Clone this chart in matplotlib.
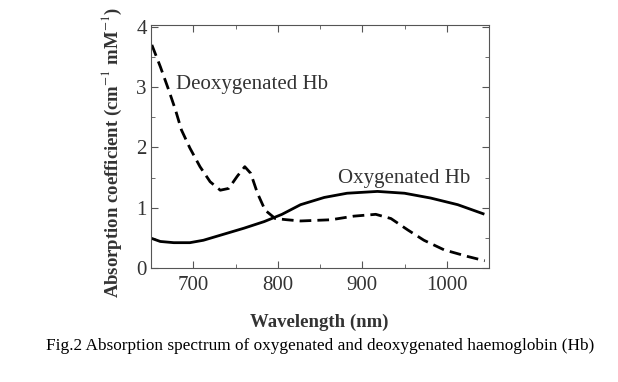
import numpy as np
import matplotlib
matplotlib.use("Agg")
import matplotlib.pyplot as plt
from matplotlib.ticker import MultipleLocator

# wavelength (nm) and absorption values
deoxy_wl = [651, 661, 671, 679, 686, 696, 708, 720, 732, 742, 752, 761, 768, 776,
            785, 797, 811, 827, 863, 890, 916, 934, 954, 973, 997, 1025, 1045]
deoxy_abs = [3.70, 3.34, 2.95, 2.62, 2.29, 1.99, 1.68, 1.43, 1.29, 1.32, 1.52, 1.68, 1.57, 1.24,
             0.96, 0.82, 0.80, 0.78, 0.80, 0.86, 0.89, 0.82, 0.63, 0.46, 0.30, 0.19, 0.12]
oxy_wl = [651, 661, 677, 696, 712, 736, 760, 784, 805, 827, 855, 882, 918,
          950, 981, 1013, 1043]
oxy_abs = [0.49, 0.44, 0.42, 0.42, 0.46, 0.56, 0.66, 0.77, 0.89, 1.05, 1.17, 1.24, 1.27,
           1.24, 1.16, 1.05, 0.90]

plt.rcParams['font.family'] = ['Liberation Serif', 'DejaVu Serif']
plt.rcParams['mathtext.fontset'] = 'stix'

fig = plt.figure(figsize=(6.18, 3.82), dpi=100)
W, H = 618, 382
ax = fig.add_axes([151 / W, 1 - 268 / H, (489 - 151) / W, (268 - 25) / H])

ax.plot(oxy_wl, oxy_abs, color="black", lw=2.0)
ax.plot(deoxy_wl, deoxy_abs, color="black", lw=2.0, ls=(0, (4.2, 2.2)))

ax.set_xlim(650, 1050)
ax.set_ylim(0, 4.03)
ax.xaxis.set_major_locator(MultipleLocator(100))
ax.xaxis.set_minor_locator(MultipleLocator(50))
ax.yaxis.set_major_locator(MultipleLocator(1))
ax.yaxis.set_minor_locator(MultipleLocator(0.5))
ax.tick_params(which="both", direction="in", top=True, right=True, colors="#555555",
               labelsize=15, labelcolor="#333333")
ax.tick_params(which="major", length=5)
ax.tick_params(which="minor", length=3)
ax.tick_params(axis="x", pad=6)
ax.tick_params(axis="y", pad=3)
for s in ax.spines.values():
    s.set_color("#555555")

ax.text(680, 3.04, "Deoxygenated Hb", fontsize=15, color="#333333", va="center")
ax.text(871, 1.49, "Oxygenated Hb", fontsize=15, color="#333333", va="center")

fig.text(319 / W, 1 - 322 / H, "Wavelength (nm)", fontsize=13.5, fontweight="bold",
         color="#333333", ha="center", va="center")
fig.text(112 / W, 1 - 298 / H, r"Absorption coefficient (cm$^{-1}$ mM$^{-1}$)",
         fontsize=13.5, fontweight="bold", color="#333333", rotation=90,
         ha="center", va="bottom")
fig.text(320 / W, 1 - 346 / H,
         "Fig.2 Absorption spectrum of oxygenated and deoxygenated haemoglobin (Hb)",
         fontsize=12.4, color="black", ha="center", va="center")

fig.savefig("out.png", dpi=100)
